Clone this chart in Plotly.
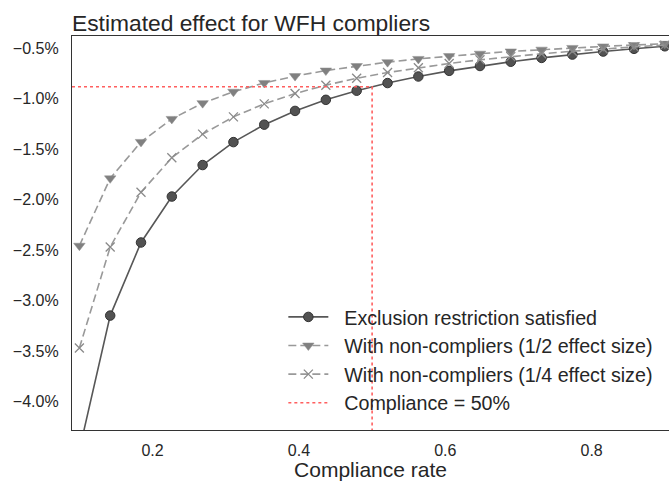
import plotly.graph_objects as go

# ---- data ----
compliance = [0.1000, 0.1421, 0.1842, 0.2263, 0.2684, 0.3105, 0.3526, 0.3947, 0.4368, 0.4789,
              0.5211, 0.5632, 0.6053, 0.6474, 0.6895, 0.7316, 0.7737, 0.8158, 0.8579, 0.9000]
excl_satisfied = [-4.500, -3.167, -2.443, -1.988, -1.676, -1.449, -1.276, -1.140, -1.030, -0.940,
                  -0.864, -0.799, -0.743, -0.695, -0.653, -0.615, -0.582, -0.552, -0.525, -0.500]
half_effect = [-2.475, -1.808, -1.447, -1.219, -1.063, -0.950, -0.863, -0.795, -0.740, -0.695,
               -0.657, -0.625, -0.597, -0.573, -0.551, -0.533, -0.516, -0.501, -0.487, -0.475]
quarter_effect = [-3.488, -2.488, -1.945, -1.604, -1.370, -1.199, -1.070, -0.968, -0.885, -0.817,
                  -0.760, -0.712, -0.670, -0.634, -0.602, -0.574, -0.549, -0.526, -0.506, -0.488]
ref_compliance = 0.5
ref_effect = -0.9

series_names = ["Exclusion restriction satisfied",
                "With non-compliers (1/2 effect size)",
                "With non-compliers (1/4 effect size)",
                "Compliance = 50%"]

y_tick_vals = [-4.0, -3.5, -3.0, -2.5, -2.0, -1.5, -1.0, -0.5]
y_tick_text = ["\u22124.0%", "\u22123.5%", "\u22123.0%", "\u22122.5%", "\u22122.0%", "\u22121.5%", "\u22121.0%", "\u22120.5%"]
x_tick_vals = [0.2, 0.4, 0.6, 0.8]
x_tick_text = ["0.2", "0.4", "0.6", "0.8"]

x_range = [0.0899, 0.9057]
y_range = [-4.30, -0.398]

FONT = "Liberation Sans, Arial, sans-serif"
TXT = "#262626"
PAD = "\u00a0\u00a0"  # gap between legend symbol and text

fig = go.Figure()

fig.add_trace(go.Scatter(
    x=compliance, y=excl_satisfied, mode="lines+markers",
    name=PAD + series_names[0], legendgroup="a",
    line=dict(color="#575757", width=1.6),
    marker=dict(symbol="circle", size=9.5, color="#525252", line=dict(color="#333333", width=1)),
))
fig.add_trace(go.Scatter(
    x=compliance, y=half_effect, mode="lines+markers",
    name=PAD + series_names[1], legendgroup="b",
    line=dict(color="#999999", width=1.6, dash="8px,4px"),
    marker=dict(symbol="triangle-down", size=10, color="#808080", line=dict(color="#8c8c8c", width=0.5)),
))
fig.add_trace(go.Scatter(
    x=compliance, y=quarter_effect, mode="lines+markers",
    name=PAD + series_names[2], legendgroup="c",
    line=dict(color="#999999", width=1.6, dash="8px,4px"),
    marker=dict(symbol="x-thin-open", size=9, color="#8a8a8a", line=dict(color="#8a8a8a", width=1.3)),
))
fig.add_trace(go.Scatter(
    x=[x_range[0], ref_compliance, ref_compliance], y=[ref_effect, ref_effect, y_range[0]],
    mode="lines", name=PAD + series_names[3], legendgroup="d",
    line=dict(color="#ff5f5f", width=1.6, dash="dot"),
))

fig.update_layout(
    width=669, height=481,
    margin=dict(l=71.5, r=0, t=36, b=51),
    paper_bgcolor="white", plot_bgcolor="white",
    font=dict(family=FONT, color=TXT, size=16),
    title=dict(text="Estimated effect for WFH compliers", font=dict(size=22.8, color=TXT, family=FONT),
               xref="paper", x=0, xanchor="left", yref="paper", y=1, yanchor="bottom",
               pad=dict(b=5, l=0)),
    showlegend=True,
    legend=dict(x=0.354, y=0.336, xanchor="left", yanchor="top", bgcolor="rgba(0,0,0,0)",
                font=dict(size=19.7, color=TXT, family=FONT), itemwidth=40,
                traceorder="grouped", tracegroupgap=0),
    xaxis=dict(range=x_range, tickvals=x_tick_vals, ticktext=x_tick_text, showgrid=False, zeroline=False,
               showline=True, linecolor="#333333", linewidth=1.3, mirror=True,
               ticks="", tickfont=dict(size=16, color=TXT), ticklabelstandoff=6,
               title=dict(text="Compliance rate", font=dict(size=21, color=TXT), standoff=8)),
    yaxis=dict(range=y_range, tickvals=y_tick_vals, ticktext=y_tick_text, showgrid=False, zeroline=False,
               showline=True, linecolor="#333333", linewidth=1.3, mirror=False,
               ticks="", tickfont=dict(size=16, color=TXT), ticklabelstandoff=9,
               ticklabelshift=2),
)

fig.write_html("out.html")
